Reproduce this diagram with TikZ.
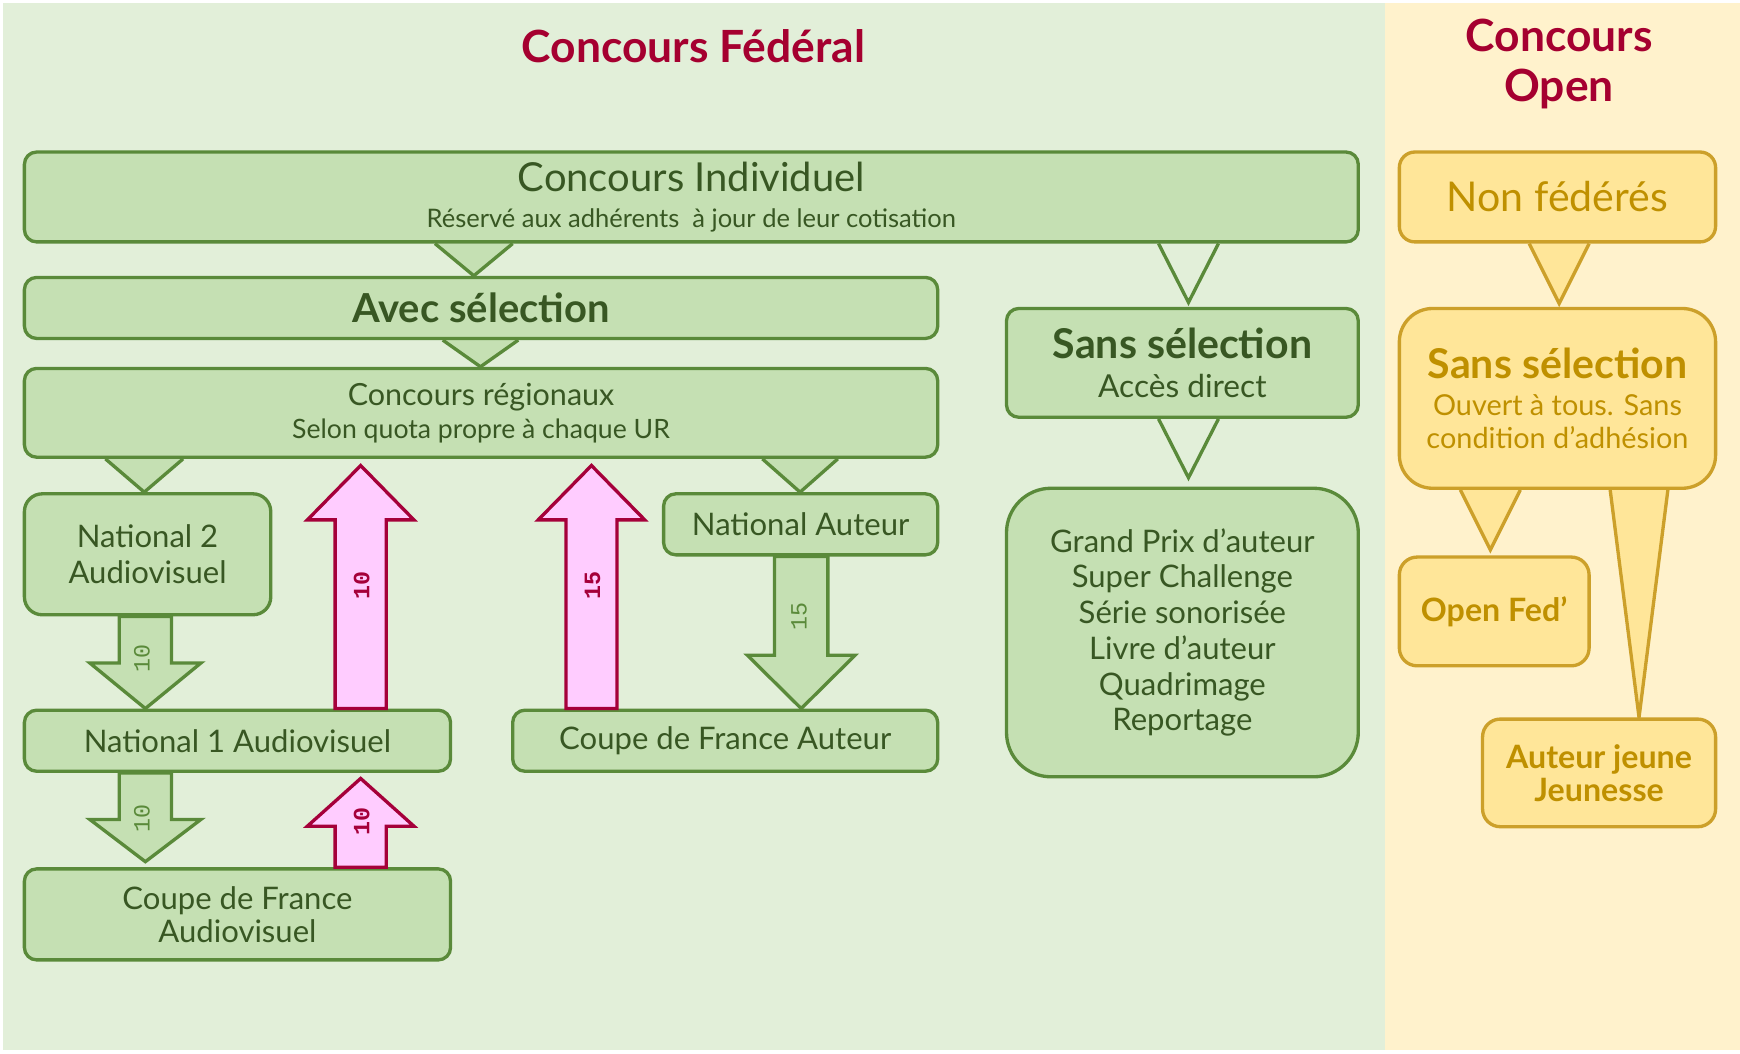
\documentclass[tikz,border=0pt]{standalone}
\usepackage{fontspec}
\setmainfont{Lato}
\newfontfamily\monofont{Liberation Mono}
\usetikzlibrary{calc}
\definecolor{gbg}{HTML}{E2EFD9}
\definecolor{gfill}{HTML}{C5E0B3}
\definecolor{gline}{HTML}{5A8A3A}
\definecolor{gtext}{HTML}{385723}
\definecolor{ybg}{HTML}{FFF2CC}
\definecolor{yfill}{HTML}{FFE699}
\definecolor{yline}{HTML}{CCA02A}
\definecolor{ytext}{HTML}{BF9000}
\definecolor{titlered}{HTML}{A50030}
\definecolor{pfill}{HTML}{FFCCFF}
\definecolor{pline}{HTML}{A5003A}
\pgfdeclarelayer{back}
\pgfdeclarelayer{under}
\pgfsetlayers{back,under,main}
\newcommand\ftri[6]{\draw[#1] let \p1=(#2), \p2=(#3), \p3=(#4) in (\x3-#5,\y1) -- (\x3,\y2#6) -- (\x3+#5,\y1);}
\newcommand\barrow[7]{\draw[#1] let \p1=(#2), \p2=(#3), \p3=(#4) in (\x3-#5,\y1) -- (\x3-#5,\y2#7) -- (\x3-#6,\y2#7) -- (\x3,\y2) -- (\x3+#6,\y2#7) -- (\x3+#5,\y2#7) -- (\x3+#5,\y1) -- cycle;}
\tikzset{
  gbox/.style={draw=gline, fill=gfill, line width=3pt, rounded corners=11pt, inner sep=0pt, align=center, text=gtext, font=\fontsize{28}{32}\selectfont},
  ybox/.style={draw=yline, fill=yfill, line width=3pt, rounded corners=14pt, inner sep=0pt, align=center, text=ytext, font=\bfseries\fontsize{29}{30}\selectfont},
  gtri/.style={draw=gline, fill=gfill, line width=3pt},
  gtrih/.style={draw=gline, fill=gbg, line width=3pt},
  ytri/.style={draw=yline, fill=yfill, line width=3pt},
  garr/.style={draw=gline, fill=gfill, line width=3pt},
  parr/.style={draw=pline, fill=pfill, line width=3pt},
  glab/.style={text=gline, rotate=90, inner sep=0pt, font=\monofont\fontsize{21}{21}\selectfont},
  plab/.style={text=pline, rotate=90, inner sep=0pt, font=\monofont\bfseries\fontsize{21}{21}\selectfont},
  ttl/.style={text=titlered, align=center, font=\bfseries\fontsize{40}{45}\selectfont}
}
\begin{document}
\begin{tikzpicture}[x=1pt,y=-1pt]
\useasboundingbox (0,0) rectangle (1568,949);
\begin{pgfonlayer}{back}
\fill[white] (0,0) rectangle (1568,949);
\fill[gbg] (3,3) rectangle (1248,946);
\fill[ybg] (1248,3) rectangle (1568,946);
\end{pgfonlayer}
% titles
\node[ttl] (tfed) at (625,42) {Concours Fédéral};
\node[ttl] (topen) at (1405,58) {Concours\\Open};
% green boxes
\node[gbox, minimum width=1202pt, minimum height=81pt, font=\fontsize{23}{32}\selectfont] (ind) at (623,177.5)
  {{\fontsize{36}{38}\selectfont Concours Individuel}\\Réservé aux adhérents~ à jour de leur cotisation};
\node[gbox, minimum width=823pt, minimum height=55pt, font=\bfseries\fontsize{36}{38}\selectfont] (avec) at (433.5,277.5) {Avec sélection};
\node[gbox, minimum width=823pt, minimum height=80pt, font=\fontsize{24}{30}\selectfont] (reg) at (433.5,372)
  {{\fontsize{27.5}{30}\selectfont Concours régionaux}\\Selon quota propre à chaque UR};
\node[gbox, minimum width=317pt, minimum height=98pt, font=\fontsize{28.5}{36}\selectfont] (sans) at (1065.5,327)
  {{\bfseries\fontsize{37}{38}\selectfont Sans sélection}\\Accès direct};
\node[gbox, minimum width=317pt, minimum height=260pt, rounded corners=40pt, font=\fontsize{28}{32.2}\selectfont] (gp) at (1065.5,570)
  {Grand Prix d’auteur\\Super Challenge\\Série sonorisée\\Livre d’auteur\\Quadrimage\\Reportage};
\node[gbox, minimum width=222pt, minimum height=109pt, rounded corners=16pt] (n2) at (133,499.5) {National 2\\Audiovisuel};
\node[gbox, minimum width=247pt, minimum height=55pt] (nata) at (721.5,472.5) {National Auteur};
\node[gbox, minimum width=384pt, minimum height=55pt] (n1) at (214,667.5) {National 1 Audiovisuel};
\node[gbox, minimum width=383pt, minimum height=55pt] (cdfa) at (653.5,667.5) {Coupe de France Auteur};
\node[gbox, minimum width=384pt, minimum height=82pt, font=\fontsize{28}{30}\selectfont] (cdfav) at (214,824) {Coupe de France\\Audiovisuel};
% yellow boxes
\node[ybox, minimum width=285pt, minimum height=81pt, font=\fontsize{37}{38}\selectfont] (nonfed) at (1403.5,177.5) {Non fédérés};
\node[ybox, minimum width=285pt, minimum height=162pt, rounded corners=30pt, font=\fontsize{26}{30}\selectfont] (ysans) at (1403.5,359)
  {{\bfseries\fontsize{37}{38}\selectfont Sans sélection}\\[3pt]Ouvert à tous. Sans\\condition d’adhésion};
\node[ybox, minimum width=171pt, minimum height=98pt, rounded corners=16pt, font=\bfseries\fontsize{29}{30}\selectfont] (openfed) at (1346.5,551) {Open Fed'};
\node[ybox, minimum width=210pt, minimum height=97pt, rounded corners=16pt] (auteurj) at (1441,696.5) {Auteur jeune\\Jeunesse};
% x positions of connectors
\coordinate (x1) at (427,0);
\coordinate (x2) at (433,0);
\coordinate (x3) at (1071,0);
\coordinate (x4) at (130,0);
\coordinate (x5) at (721,0);
\coordinate (x6) at (1405,0);
\coordinate (x7) at (1343,0);
\coordinate (x8) at (1477,0);
\coordinate (a1) at (131,0);
\coordinate (a2) at (325,0);
\coordinate (a3) at (533,0);
\coordinate (a4) at (722,0);
% triangle connectors
\begin{pgfonlayer}{under}
\ftri{gtri}{ind.south}{avec.north}{x1}{35pt}{}
\ftri{gtri}{avec.south}{reg.north}{x2}{34pt}{}
\ftri{gtrih}{ind.south}{sans.north}{x3}{27pt}{+4pt}
\ftri{gtrih}{sans.south}{gp.north}{x3}{27pt}{+8pt}
\ftri{gtri}{reg.south}{n2.north}{x4}{35pt}{}
\ftri{gtri}{reg.south}{nata.north}{x5}{34pt}{}
\ftri{ytri}{nonfed.south}{ysans.north}{x6}{27pt}{+3pt}
\ftri{ytri}{ysans.south}{openfed.north}{x7}{27pt}{+5pt}
\ftri{ytri}{ysans.south}{auteurj.north}{x8}{26pt}{}
\end{pgfonlayer}
% block arrows
\barrow{garr}{n2.south}{n1.north}{a1}{23.5pt}{50pt}{+41pt}
\barrow{parr}{n1.north}{$(reg.south)+(0,6)$}{a2}{23pt}{48pt}{-49pt}
\barrow{parr}{cdfa.north}{$(reg.south)+(0,6)$}{a3}{23pt}{48pt}{-49pt}
\barrow{garr}{nata.south}{cdfa.north}{a4}{24pt}{48.5pt}{+48pt}
\barrow{garr}{n1.south}{$(cdfav.north)+(0,-5)$}{a1}{23.5pt}{50pt}{+38pt}
\barrow{parr}{cdfav.north}{$(n1.south)+(0,5)$}{a2}{23pt}{48pt}{-43pt}
% arrow labels
\node[glab] (l1) at (128,593) {10};
\node[plab] (l2) at (326,528) {10};
\node[plab] (l3) at (534,528) {15};
\node[glab] (l4) at (720,556) {15};
\node[glab] (l5) at (128,738) {10};
\node[plab] (l6) at (326,740) {10};
\end{tikzpicture}
\end{document}
